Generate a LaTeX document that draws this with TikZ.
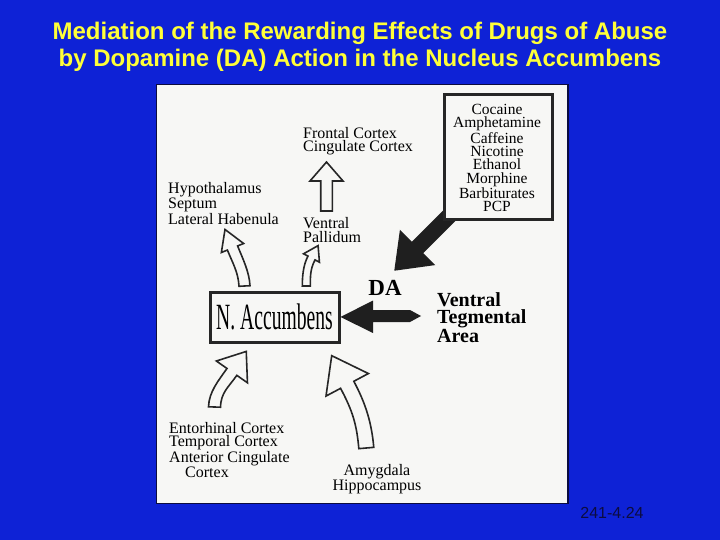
\documentclass[tikz,border=0pt]{standalone}
\usepackage{fontspec}
\setmainfont{Liberation Serif}
\newfontfamily\titlefont{Liberation Sans}
\usetikzlibrary{calc}
\definecolor{slideblue}{RGB}{14,34,214}
\definecolor{titleyellow}{RGB}{255,255,56}
\definecolor{panel}{RGB}{247,247,245}
\definecolor{navy}{RGB}{12,12,64}
\newcommand{\blockarrow}[9]{%
 \path[#1] ($(#2)+(#3-90:#6)$) .. controls ($(#2)+(#3-90:#6)+(#3:#9)$) and ($(#4)+(#5-90:#6)-(#5:#9)$) .. ($(#4)+(#5-90:#6)$) -- ($(#4)+(#5-90:#7)$) -- ($(#4)+(#5:#8)$) -- ($(#4)+(#5+90:#7)$) -- ($(#4)+(#5+90:#6)$) .. controls ($(#4)+(#5+90:#6)-(#5:#9)$) and ($(#2)+(#3+90:#6)+(#3:#9)$) .. ($(#2)+(#3+90:#6)$) -- cycle;}
\tikzset{
 hollow/.style={draw=black!85, fill=panel, line width=1.6pt, line join=miter},
 solidarrow/.style={fill=black!88},
 lbl/.style={inner sep=0pt, font=\fontsize{16}{13.6}\selectfont, align=left},
 lblc/.style={inner sep=0pt, font=\fontsize{15.5}{13.4}\selectfont, align=center},
 boldlbl/.style={inner sep=0pt, font=\fontsize{20}{17}\selectfont\bfseries, align=left},
 boxed/.style={draw=black!85, line width=3pt, fill=panel}
}
\begin{document}
\begin{tikzpicture}[x=1pt,y=-1pt]
\useasboundingbox (0,0) rectangle (720,540);
\fill[slideblue] (0,0) rectangle (720,540);
\node[inner sep=0pt, align=center, text=titleyellow, font=\titlefont\bfseries\fontsize{24}{27}\selectfont] (title) at (360,46.5)
 {Mediation of the Rewarding Effects of Drugs of Abuse\\by Dopamine (DA) Action in the Nucleus Accumbens};
\draw[navy, line width=1.5pt, fill=panel] (156.5,84.5) rectangle (568,503.5);
\node[inner sep=0pt, text=navy, font=\titlefont\fontsize{16}{16}\selectfont] (code) at (612,513) {241-4.24};

% labels
\node[lbl, anchor=west] (frontal) at (303,141) {Frontal Cortex\\Cingulate Cortex};
\node[lbl, anchor=west] (hypo) at (168,203.5) {Hypothalamus\\Septum\\Lateral Habenula};
\node[lbl, anchor=west] (vp) at (303,230) {Ventral\\Pallidum};
\node[lbl, anchor=west] (ento) at (169,450) {Entorhinal Cortex\\Temporal Cortex\\Anterior Cingulate\\\hspace*{16pt}Cortex};
\node[lblc, font=\fontsize{16}{14}\selectfont] (amyg) at (377,479) {Amygdala\\Hippocampus};
\node[boldlbl, anchor=west] (vta) at (437,317.5) {Ventral\\Tegmental\\Area};
\node[inner sep=0pt, font=\fontsize{23}{23}\selectfont\bfseries] (da) at (385,288) {DA};

% block arrows
\coordinate (fcB) at (326.5,211);
\coordinate (fcH) at (326.5,181);
\blockarrow{hollow}{fcB}{-90}{fcH}{-90}{5.8}{16.5}{19}{6}
\coordinate (hyB) at (244.5,286);
\coordinate (hyH) at (232.5,248);
\blockarrow{hollow}{hyB}{-93}{hyH}{-112}{5.5}{12}{20}{14}
\coordinate (vpB) at (306.3,286);
\coordinate (vpH) at (311.5,258);
\blockarrow{hollow}{vpB}{-90}{vpH}{-62}{4}{9}{14}{10}
\coordinate (enB) at (214.5,407);
\coordinate (enH) at (231.9,371.9);
\blockarrow{hollow}{enB}{-88}{enH}{-55}{6}{19}{25}{15}
\coordinate (amB) at (366.3,448);
\coordinate (amH) at (347.2,384.8);
\blockarrow{hollow}{amB}{-95}{amH}{-118}{7.5}{24}{33}{25}
\coordinate (dgB) at (456.5,208.5);
\coordinate (dgH) at (417.6,247.4);
\blockarrow{solidarrow}{dgB}{135}{dgH}{135}{8}{25}{33}{10}

% drugs box
\node[boxed, minimum width=108pt, minimum height=125pt, inner sep=0pt] (drugbox) at (498,157.5) {};
\node[lblc] (drugs) at (497,158) {Cocaine\\Amphetamine\\Caffeine\\Nicotine\\Ethanol\\Morphine\\Barbiturates\\PCP};

% N. Accumbens
\node[boxed, minimum width=129pt, minimum height=50pt, inner sep=0pt] (nacc) at (274.5,317) {};
\node[inner sep=0pt] (nacctext) at (274.5,317) {\scalebox{0.53}[1]{\fontsize{37}{37}\selectfont N. Accumbens}};

% DA arrow from VTA to N. Accumbens
\coordinate (daTip) at (nacc.east);
\fill[black!88] (daTip) -- (373,300.5) -- (373,310) -- (410,310) -- (421,316) -- (410,322) -- (373,322) -- (373,333) -- cycle;
\end{tikzpicture}
\end{document}
